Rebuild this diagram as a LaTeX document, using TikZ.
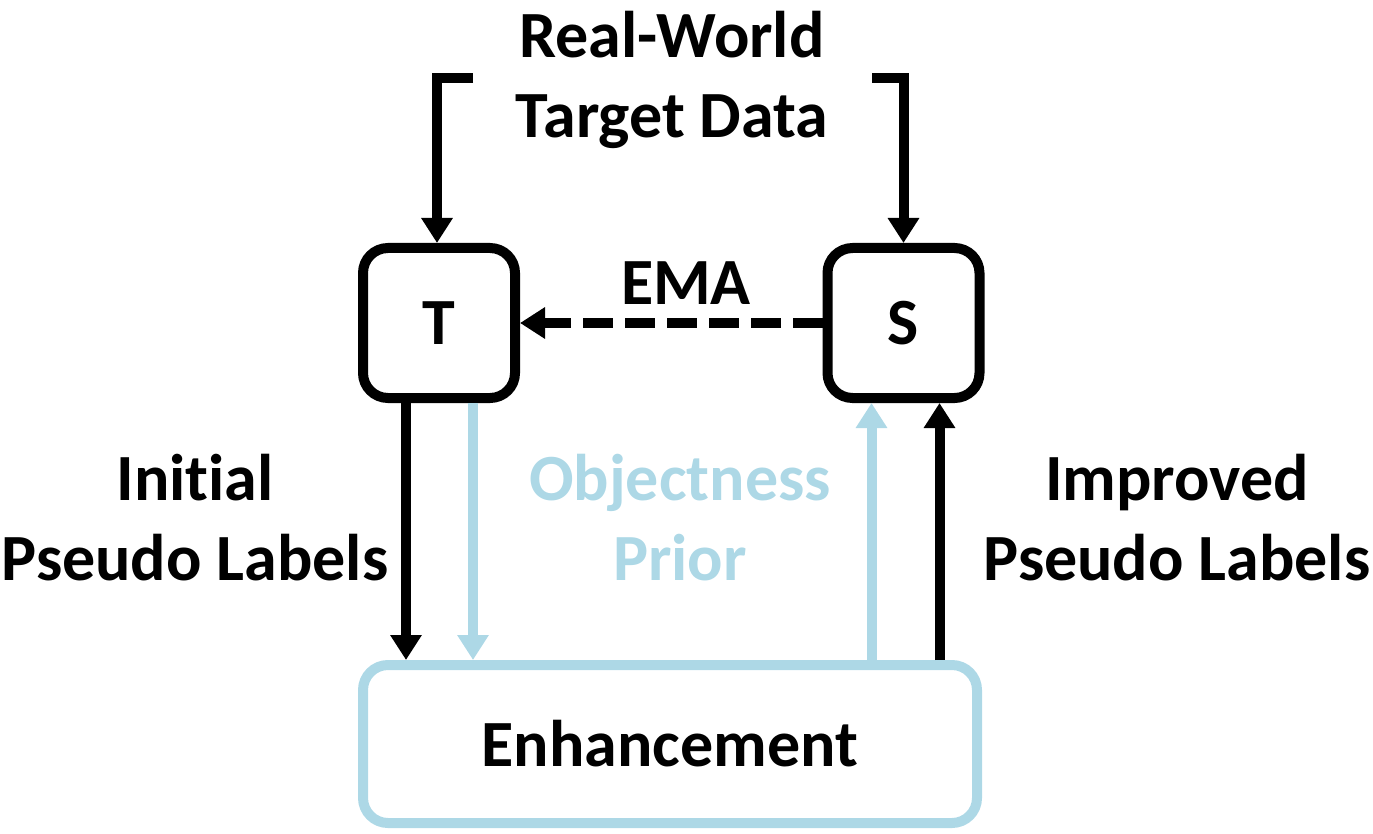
\documentclass[tikz,border=0pt]{standalone}
\usepackage{fontspec}
\setmainfont[Ligatures=NoCommon]{Carlito}
\usetikzlibrary{arrows.meta}
\definecolor{lblue}{RGB}{173,216,230}
\begin{document}
\begin{tikzpicture}[x=1pt,y=-1pt,line width=10pt,
  bigfont/.style={font=\bfseries\fontsize{66}{80}\selectfont},
  box/.style={draw,rounded corners=25pt,minimum width=152pt,minimum height=150pt,inner sep=0pt,bigfont},
  lbl/.style={align=center,inner sep=0pt,bigfont},
  arr/.style={-{Triangle[width=30pt,length=25pt]},line join=miter}]
\useasboundingbox (0,0) rectangle (1373,834);
\node[box] (T) at (439,323) {T};
\node[box] (S) at (903.5,323) {S};
\node[box,draw=lblue,minimum width=614pt,minimum height=158pt] (E) at (670,744) {Enhancement};
\node[lbl] (rw) at (672,80) {Real-World\\Target Data};
\node[lbl] (ema) at (686,283) {EMA};
\node[lbl] (init) at (195,518) {Init\kern0pt ial\\Pseudo Labels};
\node[lbl,text=lblue] (obj) at (680,518) {Objectness\\Prior};
\node[lbl] (imp) at (1177,518) {Improved\\Pseudo Labels};
\coordinate (tl) at (473,78);
\coordinate (tr) at (872,78);
\draw[arr] (tl) -| ([xshift=-2pt]T.north);
\draw[arr] (tr) -| (S.north);
\draw[arr,dash pattern=on 30pt off 12pt] (S.west) -- (T.east);
\draw[arr] ([xshift=-33pt]T.south) -- ([xshift=-33pt]T.south |- E.north);
\draw[arr,draw=lblue,fill=lblue] ([xshift=34pt]T.south) -- ([xshift=34pt]T.south |- E.north);
\draw[arr,draw=lblue,fill=lblue] ([xshift=-32pt]S.south |- E.north) -- ([xshift=-32pt]S.south);
\draw[arr] ([xshift=36pt]S.south |- E.north) -- ([xshift=36pt]S.south);
\end{tikzpicture}
\end{document}
